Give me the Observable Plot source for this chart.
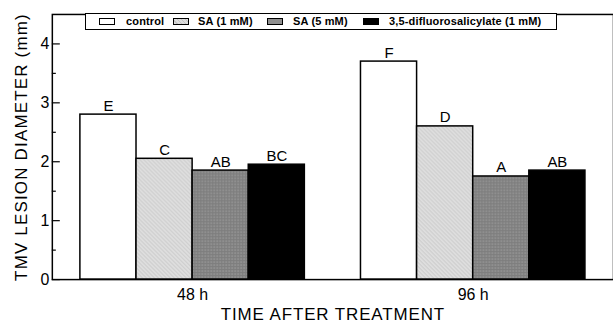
<!DOCTYPE html>
<html>
<head>
<meta charset="utf-8">
<script src="https://cdn.jsdelivr.net/npm/d3@7"></script>
<script src="https://cdn.jsdelivr.net/npm/@observablehq/plot@0.6"></script>
<style>
  html, body { margin: 0; padding: 0; overflow: hidden; background: #fff; }
  #wrap { position: relative; width: 613px; height: 326px; }
  #legend { position: absolute; left: 85px; top: 13px; width: 470px; height: 15px;
    border: 1.5px solid #000; background: #fff; font: bold 11px "Liberation Sans", Arial, sans-serif; letter-spacing: 0.15px; }
  #legend .sw { position: absolute; top: 4px; width: 14px; height: 5px; border: 1.5px solid #000; }
  #legend .lb { position: absolute; top: 1px; line-height: 13px; white-space: nowrap; }
</style>
</head>
<body>
<div id="wrap"></div>
<script>
const times = ["48 h", "96 h"];
const treatments = ["control", "SA (1 mM)", "SA (5 mM)", "3,5-difluorosalicylate (1 mM)"];
const control = [2.80, 3.70];
const sa1mM = [2.05, 2.60];
const sa5mM = [1.85, 1.75];
const difluoro = [1.95, 1.85];
const letters48 = ["E", "C", "AB", "BC"];
const letters96 = ["F", "D", "A", "AB"];
const yMajorTicks = [0, 1, 2, 3, 4];
const yMinorTicks = [0.5, 1.5, 2.5, 3.5];
const fills = ["white", "url(#hatchLight)", "url(#hatchDark)", "black"];
const xTitle = "TIME AFTER TREATMENT";
const yTitle = "TMV LESION DIAMETER (mm)";

// slot layout: each time group = 4 bar slots + 1 gap slot
const slotsPerGroup = treatments.length + 1;
const series = [control, sa1mM, sa5mM, difluoro];
const letters = [letters48, letters96];
const rows = [];
times.forEach((t, i) => treatments.forEach((tr, j) => rows.push({
  time: t, treatment: tr, value: series[j][i], letter: letters[i][j],
  slot: i * slotsPerGroup + j
})));
const groupCenters = times.map((t, i) => i * slotsPerGroup + treatments.length / 2);

const svg = Plot.plot({
  width: 615, height: 326,
  marginLeft: 52, marginRight: 0, marginTop: 14, marginBottom: 46,
  style: {fontFamily: "Liberation Sans, Arial, sans-serif", color: "#000", background: "white"},
  x: {domain: [-0.5, times.length * slotsPerGroup - 0.5], label: null},
  y: {domain: [0, 4.5], label: null},
  color: {domain: treatments, range: fills},
  marks: [
    Plot.rectY(rows, {x1: "slot", x2: d => d.slot + 1, y: "value", fill: "treatment", stroke: "black", strokeWidth: 1.5}),
    Plot.text(rows, {x: d => d.slot + 0.5, y: "value", text: "letter", lineAnchor: "bottom", dy: -4, fontSize: 15}),
    Plot.frame({stroke: "black", strokeWidth: 1.5}),
    Plot.axisY(yMajorTicks, {tickSize: -8, tickPadding: 11, fontSize: 16, strokeWidth: 1.2, label: null, tickFormat: d3.format("d")}),
    Plot.axisY(yMinorTicks, {tickSize: -4, tickFormat: () => "", strokeWidth: 1.2, label: null}),
    Plot.axisX(groupCenters, {tickSize: 0, tickPadding: 9, fontSize: 16, label: null, tickFormat: (d, i) => times[i]}),
    Plot.text([xTitle], {frameAnchor: "bottom", dy: 41, fontSize: 17}),
    Plot.text([yTitle], {frameAnchor: "left", textAnchor: "middle", dx: -31, rotate: -90, fontSize: 17})
  ]
});

const defs = d3.select(svg).insert("defs", ":first-child");
const pl = defs.append("pattern").attr("id", "hatchLight").attr("patternUnits", "userSpaceOnUse").attr("width", 4).attr("height", 4);
pl.append("rect").attr("width", 4).attr("height", 4).attr("fill", "#dedede");
pl.append("path").attr("d", "M0,0L4,4M-1,3L1,5M3,-1L5,1").attr("stroke", "#c6c6c6").attr("stroke-width", 1);
const pd = defs.append("pattern").attr("id", "hatchDark").attr("patternUnits", "userSpaceOnUse").attr("width", 3).attr("height", 3);
pd.append("rect").attr("width", 3).attr("height", 3).attr("fill", "#8f8f8f");
pd.append("path").attr("d", "M0,0.5H3M0.5,0V3").attr("stroke", "#7d7d7d").attr("stroke-width", 1);

d3.select(svg).selectAll("text").filter(function() { return this.textContent === xTitle; })
  .style("letter-spacing", "0.9px");
d3.select(svg).selectAll("text").filter(function() { return this.textContent === yTitle; })
  .style("letter-spacing", "1.2px");

const wrap = document.getElementById("wrap");
wrap.appendChild(svg);

const legend = document.createElement("div");
legend.id = "legend";
const swatchCss = [
  "background:#fff",
  "background:repeating-linear-gradient(45deg,#dedede 0 2px,#c6c6c6 2px 3px)",
  "background:#8f8f8f",
  "background:#000"
];
const swX = [13, 87, 181, 277];
const lbX = [40, 112, 207, 303];
treatments.forEach((t, i) => {
  const s = document.createElement("div");
  s.className = "sw"; s.style.cssText = swatchCss[i] + ";left:" + swX[i] + "px";
  const l = document.createElement("div");
  l.className = "lb"; l.style.left = lbX[i] + "px"; l.textContent = t;
  legend.appendChild(s); legend.appendChild(l);
});
wrap.appendChild(legend);
</script>
</body>
</html>
